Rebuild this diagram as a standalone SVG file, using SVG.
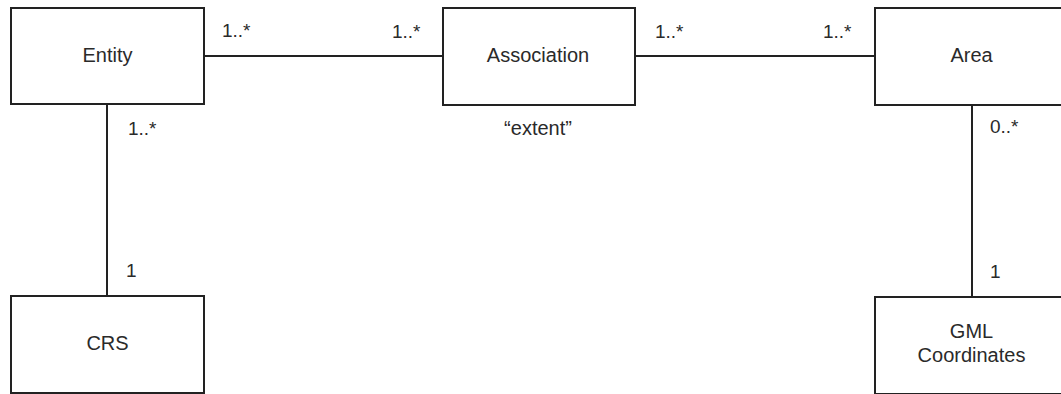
<svg xmlns="http://www.w3.org/2000/svg" width="1061" height="394" viewBox="0 0 1061 394">
<style>
.box{fill:#fff;stroke:#222;stroke-width:2}
.ln{stroke:#222;stroke-width:2;fill:none}
text{font-family:"Liberation Sans",Arial,sans-serif;font-size:19px;fill:#2a2a2a}
.c{text-anchor:middle}
.n{font-size:20px}
</style>
<rect width="1061" height="394" fill="#fff"/>
<g id="connectors">
<line class="ln" x1="204" y1="56" x2="443" y2="56"/>
<line class="ln" x1="635" y1="56" x2="875" y2="56"/>
<line class="ln" x1="107" y1="104" x2="107" y2="296"/>
<line class="ln" x1="972" y1="105" x2="972" y2="297"/>
<text x="222" y="37">1..*</text>
<text x="392" y="38">1..*</text>
<text x="655" y="38">1..*</text>
<text x="823" y="38">1..*</text>
<text x="128" y="135">1..*</text>
<text x="126" y="277">1</text>
<text x="990" y="133">0..*</text>
<text x="990" y="278">1</text>
<text class="c n" x="538" y="135">“extent”</text>
</g>
<g id="entity"><rect class="box" x="11" y="8" width="193" height="96"/><text class="c n" x="107.5" y="62">Entity</text></g>
<g id="association"><rect class="box" x="443" y="8" width="192" height="97"/><text class="c n" x="538" y="62">Association</text></g>
<g id="area"><rect class="box" x="875" y="8" width="193" height="97"/><text class="c n" x="971.5" y="62">Area</text></g>
<g id="crs"><rect class="box" x="11" y="296" width="193" height="97"/><text class="c n" x="107.5" y="350">CRS</text></g>
<g id="gml"><rect class="box" x="875" y="297" width="193" height="97"/><text class="c n" x="971.5" y="338">GML</text><text class="c n" x="971.5" y="362">Coordinates</text></g>
</svg>
